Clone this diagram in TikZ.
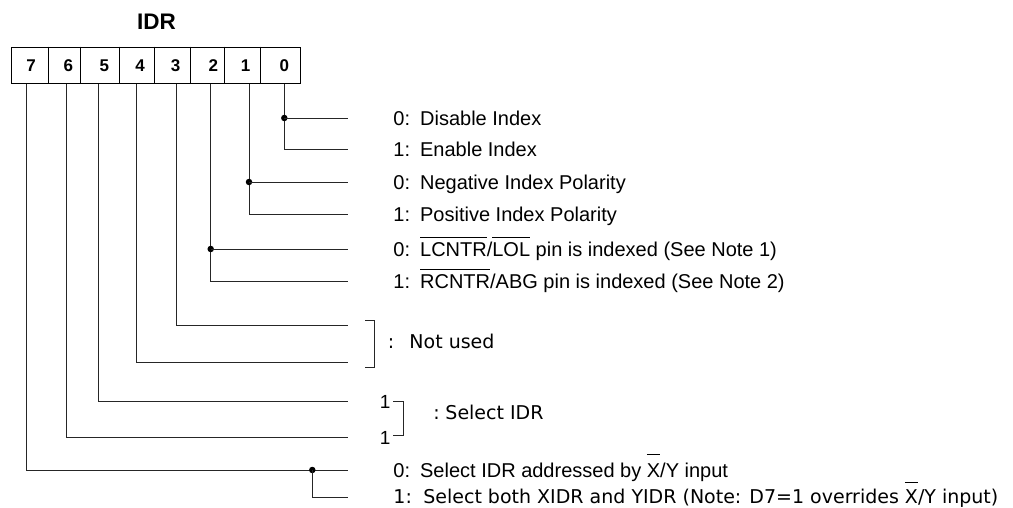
\documentclass[tikz,border=0pt]{standalone}
\usepackage{fontspec}
\setmainfont{Liberation Sans}
\newfontfamily\widefont{DejaVu Sans}
\newlength\barwd
% bar drawn over a word (active-low signal names)
\newcommand\ovl[1]{\settowidth\barwd{#1}\rlap{\rule[0.9em]{\barwd}{0.9pt}}#1}
% bar set a little higher
\newcommand\hibar[1]{\settowidth\barwd{#1}\rlap{\rule[1.1em]{\barwd}{0.9pt}}#1}
\newcommand\gap{\hspace{0.5em}}
\begin{document}
\begin{tikzpicture}[x=1pt,y=-1pt,line width=0.9pt,
  wire/.style={draw=black!85},
  bracketline/.style={draw=black!85},
  junction/.style={circle,fill=black,inner sep=0pt,minimum size=6.5pt},
  lbl/.style={anchor=base west,inner sep=0pt,font=\fontsize{20}{24}\selectfont},
  wlbl/.style={anchor=base west,inner sep=0pt,font=\widefont\fontsize{19}{23}\selectfont},
  onelbl/.style={anchor=base west,inner sep=0pt,font=\fontsize{19}{23}\selectfont},
  bitnum/.style={inner sep=0pt,font=\bfseries\fontsize{17}{20}\selectfont}]
\useasboundingbox (0,0) rectangle (1013,508);

% register title and bit cells
\node[inner sep=0pt,font=\bfseries\fontsize{22.5}{27}\selectfont] (title) at (156.5,21.5) {IDR};
\node[draw,inner sep=0pt,minimum width=289.3pt,minimum height=36.6pt,anchor=north west] (reg) at (10.7,46.7) {};
\foreach \x in {48.3,80.7,119,154.3,190.7,224.3,260}
  \draw (\x,46.7) -- (\x,83.3);
\foreach \d/\x in {7/31,6/68.3,5/104.3,4/140,3/175.7,2/213.3,1/245.7,0/284.3}
  \node[bitnum] (n\d) at (\x,65.3) {\d};

% taps under each bit
\foreach \d/\x in {7/26.7,6/66.7,5/98.3,4/136.7,3/176.7,2/210.7,1/249,0/284.3}
  \coordinate (t\d) at (reg.south -| \x,0);

% line ends
\coordinate (e0a) at (348,118);
\coordinate (e0b) at (348,149);
\coordinate (e1a) at (348,182);
\coordinate (e1b) at (348,214);
\coordinate (e2a) at (348,249);
\coordinate (e2b) at (348,281);
\coordinate (e3) at (348,325);
\coordinate (e4) at (348,362);
\coordinate (e5) at (348,401);
\coordinate (e6) at (348,437);
\coordinate (e7a) at (348,470);
\coordinate (e7b) at (348,497);

% bits 0..2: two choices each
\foreach \d in {0,1,2}{
  \draw[wire] (t\d) |- (e\d b);
  \node[junction] (j\d) at (t\d |- e\d a) {};
  \draw[wire] (j\d.center) -- (e\d a);
}
% bits 3..6: single lines
\foreach \d in {3,4,5,6}
  \draw[wire] (t\d) |- (e\d);
% bit 7
\draw[wire] (t7) |- (e7a);
\node[junction] (j7) at (312.3,470) {};
\draw[wire] (j7.center) |- (e7b);

% descriptions
\node[lbl] (l0a) at (393,125.2) {0:\gap Disable Index};
\node[lbl] (l0b) at (393,156.2) {1:\gap Enable Index};
\node[lbl] (l1a) at (393,189.2) {0:\gap Negative Index Polarity};
\node[lbl] (l1b) at (393,221.2) {1:\gap Positive Index Polarity};
\node[lbl] (l2a) at (393,256.2) {0:\gap \ovl{LCNTR}/\ovl{LOL} pin is indexed (See Note 1)};
\node[lbl] (l2b) at (393,288.2) {1:\gap \ovl{RCNTR}/ABG pin is indexed (See Note 2)};

% not used
\draw[bracketline] (365,320.7) -- (374.3,320.7) -- (374.3,367.3) -- (365,367.3);
\node[wlbl] (nucolon) at (387.5,348.9) {:};
\node[wlbl] (nu) at (409,348.9) {Not used};

% select IDR
\node[onelbl] (one5) at (379.5,408) {1};
\node[onelbl] (one6) at (379.5,444) {1};
\draw[bracketline] (393.3,401.3) -- (403.3,401.3) -- (403.3,435.7) -- (393.3,435.7);
\node[wlbl] (selcolon) at (432.8,419.9) {:};
\node[wlbl] (sel) at (445,419.9) {Select IDR};

% bit 7
\node[lbl] (l7a) at (393,477.2) {0:\gap Select IDR addressed by \hibar{X}/Y input};
\node[wlbl] (l7b) at (393,503.6) {1:\hspace{0.6em}Select both XIDR and YIDR (Note: D7=1 overrides \hibar{X}/Y input)};
\end{tikzpicture}
\end{document}
